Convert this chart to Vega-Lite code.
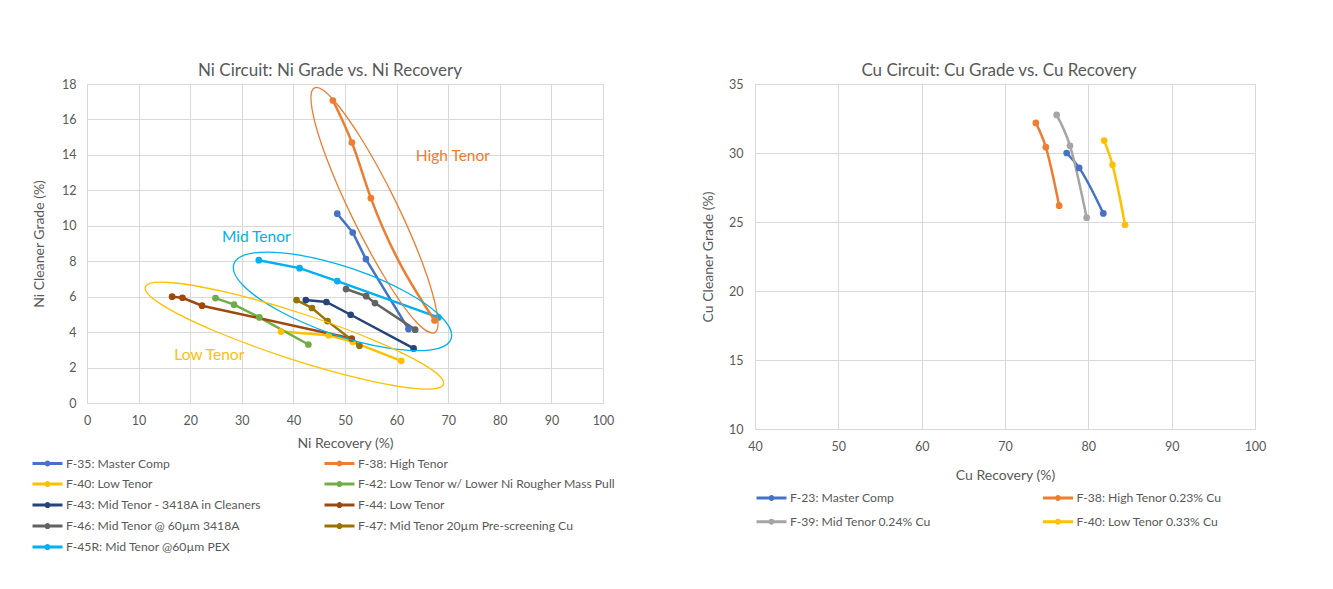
{
  "$schema": "https://vega.github.io/schema/vega-lite/v6.json",
  "background": "white",
  "padding": {"left": 30, "top": 61, "right": 20, "bottom": 10},
  "config": {
    "font": "Lato",
    "view": {"stroke": "#D9D9D9"},
    "axis": {"gridColor": "#D9D9D9", "domainColor": "#D9D9D9", "ticks": false, "tickSize": 0, "labelColor": "#595959", "titleColor": "#595959", "labelFontSize": 12.5, "titleFontSize": 14, "titleFontWeight": "normal", "labelFont": "Lato", "titleFont": "Lato", "labelOverlap": false, "labelFlush": false},
    "title": {"fontSize": 17, "fontWeight": "normal", "color": "#595959", "font": "Lato", "offset": -2},
    "legend": {"labelFontSize": 12.2, "labelColor": "#595959", "labelFont": "Lato", "labelLimit": 400, "direction": "horizontal", "symbolType": "M-1,0L1,0M0.1,0A0.1,0.1,0,1,1,-0.1,0A0.1,0.1,0,1,1,0.1,0Z", "symbolSize": 900, "symbolStrokeWidth": 3, "labelOffset": 2, "title": null}
  },
  "datasets": {
    "ni": [
      {"s": "F-35: Master Comp", "x": 48.5, "y": 10.68},
      {"s": "F-35: Master Comp", "x": 51.5, "y": 9.62},
      {"s": "F-35: Master Comp", "x": 54.05, "y": 8.12},
      {"s": "F-35: Master Comp", "x": 62.3, "y": 4.17},
      {"s": "F-38: High Tenor", "x": 47.66, "y": 17.07},
      {"s": "F-38: High Tenor", "x": 51.34, "y": 14.7},
      {"s": "F-38: High Tenor", "x": 55.02, "y": 11.56},
      {"s": "F-38: High Tenor", "x": 67.35, "y": 4.66},
      {"s": "F-40: Low Tenor", "x": 37.6, "y": 4.03},
      {"s": "F-40: Low Tenor", "x": 46.85, "y": 3.82},
      {"s": "F-40: Low Tenor", "x": 51.5, "y": 3.45},
      {"s": "F-40: Low Tenor", "x": 60.9, "y": 2.38},
      {"s": "F-42: Low Tenor w/ Lower Ni Rougher Mass Pull", "x": 24.9, "y": 5.92},
      {"s": "F-42: Low Tenor w/ Lower Ni Rougher Mass Pull", "x": 28.5, "y": 5.55},
      {"s": "F-42: Low Tenor w/ Lower Ni Rougher Mass Pull", "x": 33.4, "y": 4.83},
      {"s": "F-42: Low Tenor w/ Lower Ni Rougher Mass Pull", "x": 42.9, "y": 3.3},
      {"s": "F-43: Mid Tenor - 3418A in Cleaners", "x": 42.4, "y": 5.81},
      {"s": "F-43: Mid Tenor - 3418A in Cleaners", "x": 46.4, "y": 5.7},
      {"s": "F-43: Mid Tenor - 3418A in Cleaners", "x": 51.1, "y": 4.98},
      {"s": "F-43: Mid Tenor - 3418A in Cleaners", "x": 63.3, "y": 3.08},
      {"s": "F-44: Low Tenor", "x": 16.5, "y": 6.0},
      {"s": "F-44: Low Tenor", "x": 18.5, "y": 5.94},
      {"s": "F-44: Low Tenor", "x": 22.3, "y": 5.49},
      {"s": "F-44: Low Tenor", "x": 51.3, "y": 3.64},
      {"s": "F-46: Mid Tenor @ 60µm 3418A", "x": 50.2, "y": 6.43},
      {"s": "F-46: Mid Tenor @ 60µm 3418A", "x": 54.1, "y": 6.03},
      {"s": "F-46: Mid Tenor @ 60µm 3418A", "x": 55.8, "y": 5.64},
      {"s": "F-46: Mid Tenor @ 60µm 3418A", "x": 63.6, "y": 4.14},
      {"s": "F-47: Mid Tenor 20µm Pre-screening Cu", "x": 40.6, "y": 5.81},
      {"s": "F-47: Mid Tenor 20µm Pre-screening Cu", "x": 43.6, "y": 5.36},
      {"s": "F-47: Mid Tenor 20µm Pre-screening Cu", "x": 46.6, "y": 4.62},
      {"s": "F-47: Mid Tenor 20µm Pre-screening Cu", "x": 52.8, "y": 3.23},
      {"s": "F-45R: Mid Tenor @60µm PEX", "x": 33.3, "y": 8.06},
      {"s": "F-45R: Mid Tenor @60µm PEX", "x": 41.2, "y": 7.61},
      {"s": "F-45R: Mid Tenor @60µm PEX", "x": 48.5, "y": 6.88},
      {"s": "F-45R: Mid Tenor @60µm PEX", "x": 68.1, "y": 4.83}
    ],
    "ell": [
      {"g": "High", "i": 0, "x": 67.38, "y": 3.97},
      {"g": "High", "i": 1, "x": 63.8, "y": 4.57},
      {"g": "High", "i": 2, "x": 58.08, "y": 6.9},
      {"g": "High", "i": 3, "x": 51.71, "y": 10.29},
      {"g": "High", "i": 4, "x": 46.41, "y": 13.82},
      {"g": "High", "i": 5, "x": 43.63, "y": 16.56},
      {"g": "High", "i": 6, "x": 44.08, "y": 17.78},
      {"g": "High", "i": 7, "x": 47.65, "y": 17.14},
      {"g": "High", "i": 8, "x": 53.38, "y": 14.81},
      {"g": "High", "i": 9, "x": 59.75, "y": 11.42},
      {"g": "High", "i": 10, "x": 65.03, "y": 7.88},
      {"g": "High", "i": 11, "x": 67.8, "y": 5.12},
      {"g": "Mid", "i": 0, "x": 70.56, "y": 3.63},
      {"g": "Mid", "i": 1, "x": 66.66, "y": 3.0},
      {"g": "Mid", "i": 2, "x": 58.16, "y": 3.11},
      {"g": "Mid", "i": 3, "x": 47.34, "y": 3.92},
      {"g": "Mid", "i": 4, "x": 37.11, "y": 5.22},
      {"g": "Mid", "i": 5, "x": 30.17, "y": 6.66},
      {"g": "Mid", "i": 6, "x": 28.47, "y": 7.85},
      {"g": "Mid", "i": 7, "x": 32.37, "y": 8.47},
      {"g": "Mid", "i": 8, "x": 40.87, "y": 8.36},
      {"g": "Mid", "i": 9, "x": 51.69, "y": 7.55},
      {"g": "Mid", "i": 10, "x": 61.92, "y": 6.25},
      {"g": "Mid", "i": 11, "x": 68.83, "y": 4.81},
      {"g": "Low", "i": 0, "x": 69.09, "y": 1.06},
      {"g": "Low", "i": 1, "x": 64.52, "y": 0.8},
      {"g": "Low", "i": 2, "x": 53.4, "y": 1.35},
      {"g": "Low", "i": 3, "x": 38.78, "y": 2.55},
      {"g": "Low", "i": 4, "x": 24.52, "y": 4.09},
      {"g": "Low", "i": 5, "x": 14.47, "y": 5.55},
      {"g": "Low", "i": 6, "x": 11.3, "y": 6.54},
      {"g": "Low", "i": 7, "x": 15.86, "y": 6.8},
      {"g": "Low", "i": 8, "x": 26.97, "y": 6.25},
      {"g": "Low", "i": 9, "x": 41.61, "y": 5.05},
      {"g": "Low", "i": 10, "x": 55.86, "y": 3.51},
      {"g": "Low", "i": 11, "x": 65.93, "y": 2.05}
    ],
    "lab": [
      {"t": "High Tenor", "x": 70.9, "y": 13.95},
      {"t": "Mid Tenor", "x": 32.8, "y": 9.39},
      {"t": "Low Tenor", "x": 23.7, "y": 2.7}
    ],
    "cu": [
      {"s": "F-23: Master Comp", "x": 77.4, "y": 30.0},
      {"s": "F-23: Master Comp", "x": 78.9, "y": 28.92},
      {"s": "F-23: Master Comp", "x": 81.8, "y": 25.62},
      {"s": "F-38: High Tenor 0.23% Cu", "x": 73.7, "y": 32.18},
      {"s": "F-38: High Tenor 0.23% Cu", "x": 74.9, "y": 30.42},
      {"s": "F-38: High Tenor 0.23% Cu", "x": 76.5, "y": 26.18},
      {"s": "F-39: Mid Tenor 0.24% Cu", "x": 76.2, "y": 32.76},
      {"s": "F-39: Mid Tenor 0.24% Cu", "x": 77.8, "y": 30.52},
      {"s": "F-39: Mid Tenor 0.24% Cu", "x": 79.8, "y": 25.31},
      {"s": "F-40: Low Tenor 0.33% Cu", "x": 81.9, "y": 30.9},
      {"s": "F-40: Low Tenor 0.33% Cu", "x": 82.9, "y": 29.14},
      {"s": "F-40: Low Tenor 0.33% Cu", "x": 84.4, "y": 24.8}
    ]
  },
  "spacing": 152,
  "bounds": "flush",
  "resolve": {"scale": {"color": "independent"}, "legend": {"color": "independent"}},
  "hconcat": [
    {
      "width": 516,
      "height": 319,
      "title": {"text": "Ni Circuit: Ni Grade vs. Ni Recovery", "dx": -15},
      "encoding": {
        "x": {"field": "x", "type": "quantitative", "scale": {"domain": [0, 100], "nice": false, "zero": false}, "axis": {"values": [0, 10, 20, 30, 40, 50, 60, 70, 80, 90, 100], "title": "Ni Recovery (%)", "labelPadding": 11, "titlePadding": 10}},
        "y": {"field": "y", "type": "quantitative", "scale": {"domain": [0, 18], "nice": false, "zero": false}, "axis": {"values": [0, 2, 4, 6, 8, 10, 12, 14, 16, 18], "title": "Ni Cleaner Grade (%)", "labelPadding": 11, "titlePadding": 15}}
      },
      "layer": [
        {
          "data": {"name": "ni"},
          "transform": [{"filter": "datum.s !== 'F-38: High Tenor'"}],
          "mark": {"type": "line", "interpolate": "linear", "strokeWidth": 2.5, "point": {"filled": true, "size": 45}},
          "encoding": {
            "color": {
              "field": "s", "type": "nominal",
              "scale": {"domain": ["F-35: Master Comp", "F-38: High Tenor", "F-40: Low Tenor", "F-42: Low Tenor w/ Lower Ni Rougher Mass Pull", "F-43: Mid Tenor - 3418A in Cleaners", "F-44: Low Tenor", "F-46: Mid Tenor @ 60µm 3418A", "F-47: Mid Tenor 20µm Pre-screening Cu", "F-45R: Mid Tenor @60µm PEX"],
                        "range": ["#4472C4", "#ED7D31", "#FFC000", "#70AD47", "#264478", "#9E480E", "#636363", "#997300", "#00B0F0"]},
              "legend": {"orient": "none", "legendX": -56, "legendY": 369, "columns": 2, "columnPadding": 61, "rowPadding": 0, "clipHeight": 20.2}
            }
          }
        },
        {
          "data": {"name": "ni"},
          "transform": [{"filter": "datum.s === 'F-38: High Tenor'"}],
          "mark": {"type": "line", "interpolate": "monotone", "strokeWidth": 2.5, "point": {"filled": true, "size": 45}},
          "encoding": {
            "color": {"field": "s", "type": "nominal"}
          }
        },
        {
          "data": {"name": "ell"},
          "mark": {"type": "line", "interpolate": "cardinal-closed", "strokeWidth": 1.3},
          "encoding": {
            "order": {"field": "i", "type": "quantitative"},
            "stroke": {"field": "g", "type": "nominal", "scale": {"domain": ["High", "Mid", "Low"], "range": ["#ED7D31", "#00B0F0", "#FFC000"]}, "legend": null}
          }
        },
        {
          "data": {"name": "lab"},
          "mark": {"type": "text", "fontSize": 15.5, "font": "Lato", "align": "center", "baseline": "middle"},
          "encoding": {
            "text": {"field": "t"},
            "fill": {"field": "t", "type": "nominal", "scale": {"domain": ["High Tenor", "Mid Tenor", "Low Tenor"], "range": ["#ED7D31", "#00B0F0", "#FFC000"]}, "legend": null}
          }
        }
      ]
    },
    {
      "width": 500,
      "height": 345,
      "title": {"text": "Cu Circuit: Cu Grade vs. Cu Recovery", "dx": -6},
      "data": {"name": "cu"},
      "mark": {"type": "line", "interpolate": "monotone", "strokeWidth": 2.5, "point": {"filled": true, "size": 45}},
      "encoding": {
        "x": {"field": "x", "type": "quantitative", "scale": {"domain": [40, 100], "nice": false, "zero": false}, "axis": {"values": [40, 50, 60, 70, 80, 90, 100], "title": "Cu Recovery (%)", "labelPadding": 11, "titlePadding": 16}},
        "y": {"field": "y", "type": "quantitative", "scale": {"domain": [10, 35], "nice": false, "zero": false}, "axis": {"values": [10, 15, 20, 25, 30, 35], "title": "Cu Cleaner Grade (%)", "labelPadding": 12, "titlePadding": 13}},
        "color": {
          "field": "s", "type": "nominal",
          "scale": {"domain": ["F-23: Master Comp", "F-38: High Tenor 0.23% Cu", "F-39: Mid Tenor 0.24% Cu", "F-40: Low Tenor 0.33% Cu"], "range": ["#4472C4", "#ED7D31", "#A5A5A5", "#FFC000"]},
          "legend": {"orient": "none", "legendX": 0, "legendY": 402, "columns": 2, "columnPadding": 110.5, "rowPadding": 0, "clipHeight": 23.4}
        }
      }
    }
  ]
}
